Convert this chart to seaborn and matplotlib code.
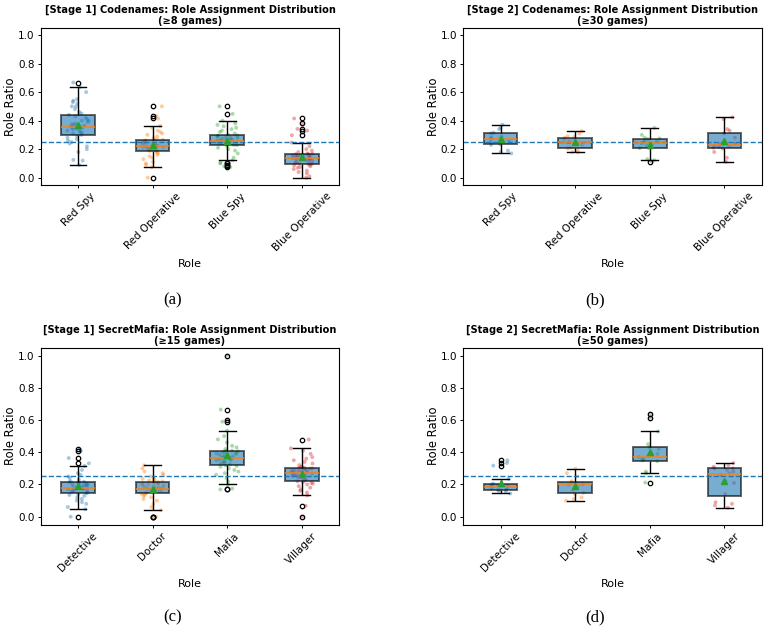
import matplotlib
matplotlib.use('Agg')
import matplotlib.pyplot as plt
import numpy as np
import pandas as pd
import seaborn as sns

np.random.seed(3)  # only for the strip jitter

codenames_roles = ['Red Spy', 'Red Operative', 'Blue Spy', 'Blue Operative']
mafia_roles = ['Detective', 'Doctor', 'Mafia', 'Villager']

#>> Stage 1 Codenames (>=8 games)
cn1_red_spy = [0.089, 0.12, 0.125, 0.18, 0.2, 0.22, 0.24, 0.25, 0.26, 0.27, 0.28, 0.29,
               0.30, 0.31, 0.315, 0.32, 0.33, 0.333, 0.34, 0.345, 0.35, 0.35, 0.355, 0.357,
               0.36, 0.365, 0.37, 0.375, 0.38, 0.39, 0.40, 0.40, 0.41, 0.42, 0.43, 0.44,
               0.45, 0.46, 0.48, 0.5, 0.5, 0.52, 0.53, 0.54, 0.55, 0.6, 0.635, 0.667]
cn1_red_op = [0.0, 0.073, 0.09, 0.1, 0.11, 0.13, 0.14, 0.15, 0.16, 0.17, 0.18, 0.183,
              0.187, 0.19, 0.195, 0.2, 0.2, 0.205, 0.21, 0.21, 0.215, 0.22, 0.222, 0.224,
              0.226, 0.23, 0.235, 0.24, 0.24, 0.245, 0.25, 0.25, 0.255, 0.26, 0.263, 0.266,
              0.27, 0.28, 0.29, 0.3, 0.31, 0.32, 0.33, 0.35, 0.363, 0.415, 0.433, 0.5]
cn1_blue_spy = [0.075, 0.08, 0.09, 0.10, 0.105, 0.121, 0.14, 0.17, 0.19, 0.2, 0.21, 0.22,
                0.228, 0.23, 0.235, 0.24, 0.24, 0.245, 0.25, 0.25, 0.253, 0.255, 0.257, 0.259,
                0.262, 0.265, 0.27, 0.27, 0.275, 0.28, 0.28, 0.285, 0.29, 0.29, 0.293, 0.296,
                0.30, 0.31, 0.32, 0.33, 0.34, 0.35, 0.36, 0.37, 0.38, 0.40, 0.447, 0.5]
cn1_blue_op = [0.0, 0.01, 0.03, 0.04, 0.05, 0.06, 0.07, 0.075, 0.08, 0.085, 0.09, 0.094,
               0.098, 0.1, 0.105, 0.11, 0.115, 0.12, 0.125, 0.128, 0.13, 0.133, 0.136, 0.139,
               0.141, 0.143, 0.145, 0.148, 0.15, 0.152, 0.155, 0.157, 0.16, 0.162, 0.164, 0.165,
               0.168, 0.17, 0.18, 0.19, 0.2, 0.22, 0.246, 0.297, 0.33, 0.342, 0.38, 0.415]

#>> Stage 2 Codenames (>=30 games)
cn2_red_spy = [0.17, 0.18, 0.19, 0.23, 0.235, 0.25, 0.26, 0.27,
               0.275, 0.28, 0.29, 0.31, 0.315, 0.34, 0.35, 0.372]
cn2_red_op = [0.177, 0.18, 0.19, 0.205, 0.21, 0.23, 0.245, 0.25,
              0.252, 0.26, 0.27, 0.28, 0.285, 0.29, 0.31, 0.326]
cn2_blue_spy = [0.112, 0.123, 0.13, 0.207, 0.21, 0.225, 0.235, 0.24,
                0.248, 0.255, 0.26, 0.27, 0.275, 0.28, 0.3, 0.349]
cn2_blue_op = [0.112, 0.14, 0.18, 0.205, 0.21, 0.215, 0.22, 0.225,
               0.232, 0.24, 0.28, 0.31, 0.33, 0.34, 0.41, 0.423]

#>> Stage 1 SecretMafia (>=15 games)
sm1_detective = [0.0, 0.047, 0.06, 0.08, 0.09, 0.1, 0.11, 0.12, 0.13, 0.135, 0.14, 0.146,
                 0.15, 0.155, 0.16, 0.163, 0.166, 0.17, 0.172, 0.175, 0.176, 0.178, 0.179, 0.18,
                 0.182, 0.185, 0.19, 0.193, 0.196, 0.2, 0.203, 0.206, 0.21, 0.212, 0.215, 0.217,
                 0.22, 0.23, 0.24, 0.25, 0.26, 0.27, 0.29, 0.315, 0.331, 0.364, 0.407, 0.418]
sm1_doctor = [0.0, 0.0, 0.0, 0.04, 0.06, 0.08, 0.1, 0.11, 0.12, 0.13, 0.135, 0.142,
              0.146, 0.15, 0.153, 0.156, 0.16, 0.163, 0.165, 0.168, 0.17, 0.172, 0.173, 0.174,
              0.176, 0.18, 0.185, 0.19, 0.193, 0.196, 0.2, 0.203, 0.206, 0.21, 0.212, 0.215,
              0.218, 0.22, 0.225, 0.23, 0.235, 0.24, 0.25, 0.26, 0.27, 0.28, 0.3, 0.319]
sm1_mafia = [0.169, 0.175, 0.2, 0.22, 0.24, 0.26, 0.27, 0.28, 0.29, 0.3, 0.31, 0.315,
             0.32, 0.325, 0.33, 0.335, 0.34, 0.345, 0.35, 0.353, 0.356, 0.36, 0.362, 0.363,
             0.365, 0.37, 0.375, 0.38, 0.385, 0.39, 0.393, 0.396, 0.4, 0.403, 0.406, 0.408,
             0.41, 0.42, 0.43, 0.44, 0.46, 0.48, 0.5, 0.533, 0.59, 0.6, 0.665, 1.0]
sm1_villager = [0.0, 0.068, 0.132, 0.15, 0.16, 0.17, 0.18, 0.19, 0.2, 0.205, 0.21, 0.215,
                0.22, 0.225, 0.23, 0.24, 0.245, 0.25, 0.255, 0.26, 0.263, 0.266, 0.268, 0.27,
                0.274, 0.277, 0.28, 0.283, 0.286, 0.29, 0.292, 0.295, 0.298, 0.3, 0.302, 0.304,
                0.307, 0.31, 0.32, 0.33, 0.34, 0.35, 0.36, 0.37, 0.39, 0.41, 0.424, 0.479]

#>> Stage 2 SecretMafia (>=50 games)
sm2_detective = [0.144, 0.155, 0.16, 0.165, 0.167, 0.175, 0.18, 0.185, 0.187,
                 0.19, 0.195, 0.2, 0.204, 0.235, 0.317, 0.333, 0.35]
sm2_doctor = [0.099, 0.11, 0.12, 0.14, 0.148, 0.16, 0.19, 0.198,
              0.202, 0.205, 0.21, 0.212, 0.22, 0.25, 0.27, 0.298]
sm2_mafia = [0.212, 0.27, 0.28, 0.345, 0.35, 0.355, 0.36, 0.37,
             0.375, 0.39, 0.42, 0.43, 0.45, 0.529, 0.613, 0.638]
sm2_villager = [0.056, 0.07, 0.08, 0.09, 0.14, 0.21, 0.22, 0.26,
                0.27, 0.28, 0.29, 0.3, 0.3, 0.31, 0.32, 0.333]

panels = [
    ('[Stage 1] Codenames: Role Assignment Distribution\n(≥8 games)', codenames_roles,
     [cn1_red_spy, cn1_red_op, cn1_blue_spy, cn1_blue_op], '(a)'),
    ('[Stage 2] Codenames: Role Assignment Distribution\n(≥30 games)', codenames_roles,
     [cn2_red_spy, cn2_red_op, cn2_blue_spy, cn2_blue_op], '(b)'),
    ('[Stage 1] SecretMafia: Role Assignment Distribution\n(≥15 games)', mafia_roles,
     [sm1_detective, sm1_doctor, sm1_mafia, sm1_villager], '(c)'),
    ('[Stage 2] SecretMafia: Role Assignment Distribution\n(≥50 games)', mafia_roles,
     [sm2_detective, sm2_doctor, sm2_mafia, sm2_villager], '(d)'),
]

# axes boxes (left, bottom, width, height) and caption spots, figure fraction
axes_pos = [(0.053, 0.708, 0.388, 0.248), (0.6025, 0.708, 0.388, 0.248),
            (0.053, 0.171, 0.388, 0.280), (0.6025, 0.171, 0.388, 0.280)]
caption_pos = [(0.224, 0.526), (0.774, 0.526), (0.224, 0.024), (0.774, 0.024)]

fig = plt.figure(figsize=(7.69, 6.33), dpi=100)

for (title, roles, values, caption), pos, cpos in zip(panels, axes_pos, caption_pos):
    ax = fig.add_axes(pos)
    df = pd.DataFrame({
        'Role': np.repeat(roles, [len(v) for v in values]),
        'Role Ratio': np.concatenate(values),
    })

    sns.stripplot(data=df, x='Role', y='Role Ratio', hue='Role', order=roles, hue_order=roles,
                  palette='tab10', alpha=0.4, size=2.8, jitter=0.15, linewidth=0,
                  legend=False, ax=ax, zorder=1)
    sns.boxplot(data=df, x='Role', y='Role Ratio', order=roles, width=0.45, saturation=1,
                color='tab:blue', linecolor='black', linewidth=1.0, showmeans=True,
                boxprops=dict(facecolor='tab:blue', edgecolor='black', alpha=0.6, linewidth=1.4),
                medianprops=dict(color='tab:orange', linewidth=1.1),
                whiskerprops=dict(color='black', linewidth=1.0),
                capprops=dict(color='black', linewidth=1.0),
                meanprops=dict(marker='^', markerfacecolor='tab:green',
                               markeredgecolor='tab:green', markersize=4.8),
                flierprops=dict(marker='o', markerfacecolor='none',
                                markeredgecolor='black', markersize=3.2, markeredgewidth=0.9),
                ax=ax)
    ax.axhline(0.25, color='tab:blue', linestyle='--', linewidth=1.0)

    ax.set_xlim(-0.5, 3.5)
    ax.set_ylim(-0.05, 1.05)
    ax.set_yticks([0.0, 0.2, 0.4, 0.6, 0.8, 1.0])
    ax.set_title(title, fontsize=7.1, fontweight='bold', pad=2.5, linespacing=1.15)
    ax.set_xlabel('Role', fontsize=8)
    ax.set_ylabel('Role Ratio', fontsize=8.3, labelpad=0.5)
    ax.tick_params(labelsize=7.5, length=2.5, width=0.7, pad=2)
    plt.setp(ax.get_xticklabels(), rotation=45)
    for s in ax.spines.values():
        s.set_linewidth(0.8)

    fig.text(cpos[0], cpos[1], caption, ha='center', va='center',
             fontsize=12, family='Liberation Serif')

fig.savefig('out.png', dpi=100)
